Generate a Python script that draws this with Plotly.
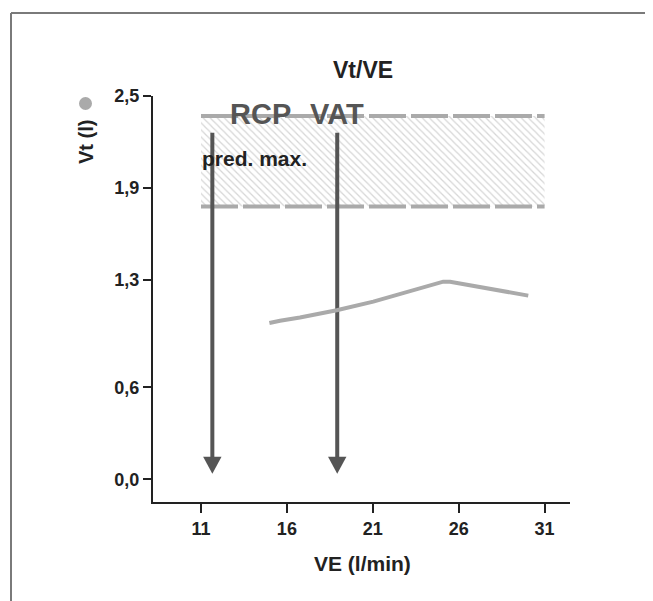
import plotly.graph_objects as go

# ---- data ----
ve_values = [14.98, 15.6, 16.76, 18.9, 21.03, 22.58, 24.33, 25.1, 25.5, 30.05]
vt_values = [1.019, 1.034, 1.055, 1.103, 1.159, 1.207, 1.261, 1.289, 1.289, 1.198]
x_ticks = [11, 16, 21, 26, 31]
y_ticks = [0.0, 0.6, 1.3, 1.9, 2.5]
y_tick_labels = ["0,0", "0,6", "1,3", "1,9", "2,5"]
band_ve = [11, 31]          # predicted max band VE extent
band_vt = [1.78, 2.37]      # predicted max band Vt low/high
threshold_names = ["RCP", "VAT"]
threshold_ve = [11.66, 18.93]
arrow_top_vt = 2.26
arrow_tip_vt = 0.037

# ---- layout geometry (page pixels; page body has an 8px margin) ----
PAGE_OFF = 8
W, H = 653, 601
L, R, T, B = 153, 570, 96, 502          # plot area in page pixels
PW, PH = R - L, B - T
FIG_W, FIG_H = W - PAGE_OFF, H - PAGE_OFF
x_range = [8.206, 32.48]
y_range = [-0.148, 2.5]
ppx = PW / (x_range[1] - x_range[0])
ppy = PH / (y_range[1] - y_range[0])

def px2paper_x(px):
    return (px - L) / PW

def py2paper_y(py):
    return (B - py) / PH

FONT = "Liberation Sans, Arial, Helvetica, sans-serif"
DARK = "#222222"
ARROW = "#555555"
LGRAY = "#aaaaaa"

fig = go.Figure()

# hatched band
fig.add_trace(go.Scatter(
    x=[band_ve[0], band_ve[1], band_ve[1], band_ve[0], band_ve[0]],
    y=[band_vt[0], band_vt[0], band_vt[1], band_vt[1], band_vt[0]],
    mode="lines", line=dict(width=0, color="rgba(0,0,0,0)"),
    fill="toself", fillcolor="rgba(0,0,0,0)",
    fillpattern=dict(shape="\\", fgcolor="#aeaeae", bgcolor="rgba(0,0,0,0)",
                     size=5, solidity=0.25),
    hoverinfo="skip", showlegend=False))

# dashed band limits
for v in band_vt:
    fig.add_trace(go.Scatter(
        x=band_ve, y=[v, v], mode="lines",
        line=dict(color=LGRAY, width=4, dash="37px,5px"),
        hoverinfo="skip", showlegend=False))

# threshold arrows
head_half = 9.2 / ppx
head_h = 17 / ppy
for tv in threshold_ve:
    fig.add_trace(go.Scatter(
        x=[tv, tv], y=[arrow_top_vt, arrow_tip_vt + head_h * 0.9], mode="lines",
        line=dict(color=ARROW, width=4), hoverinfo="skip", showlegend=False))
    fig.add_trace(go.Scatter(
        x=[tv - head_half, tv + head_half, tv, tv - head_half],
        y=[arrow_tip_vt + head_h, arrow_tip_vt + head_h, arrow_tip_vt, arrow_tip_vt + head_h],
        mode="lines", line=dict(color=ARROW, width=0), fill="toself", fillcolor=ARROW,
        hoverinfo="skip", showlegend=False))

# curve
fig.add_trace(go.Scatter(
    x=ve_values, y=vt_values, mode="lines",
    line=dict(color=LGRAY, width=4), hoverinfo="skip", showlegend=False))

def ann(text, px, py, size, color=DARK, xanchor="center", angle=0, xref="paper"):
    return dict(text=text, x=px if xref == "x" else px2paper_x(px), y=py2paper_y(py),
                xref=xref, yref="paper", xanchor=xanchor, yanchor="middle",
                showarrow=False, textangle=angle,
                font=dict(family=FONT, size=size, color=color))

annotations = [
    ann("<b>Vt/VE</b>", 363, 70, 23),
    ann("<b>VE (l/min)</b>", 362, 563, 21),
    ann("<b>Vt (l)</b>", 86, 142, 20, angle=-90),
    ann("<b>pred. max.</b>", 200, 158, 21, xanchor="left"),
    ann("<b>RCP</b>", 260, 114, 29, color=ARROW),
    ann("<b>VAT</b>", threshold_ve[1], 114, 29, color=ARROW, xref="x"),
]

shapes = [
    dict(type="line", xref="paper", yref="paper", x0=px2paper_x(11), x1=px2paper_x(W),
         y0=py2paper_y(13), y1=py2paper_y(13), line=dict(color="#7a7a7a", width=2)),
    dict(type="line", xref="paper", yref="paper", x0=px2paper_x(11), x1=px2paper_x(11),
         y0=py2paper_y(13), y1=py2paper_y(H), line=dict(color="#7a7a7a", width=2)),
    dict(type="circle", xref="paper", yref="paper", x0=px2paper_x(79), x1=px2paper_x(92),
         y0=py2paper_y(110), y1=py2paper_y(97), fillcolor=LGRAY, line=dict(width=0)),
]

fig.update_layout(
    width=FIG_W, height=FIG_H,
    margin=dict(l=L - PAGE_OFF, r=FIG_W - (R - PAGE_OFF), t=T - PAGE_OFF, b=FIG_H - (B - PAGE_OFF)),
    plot_bgcolor="white", paper_bgcolor="white",
    showlegend=False, annotations=annotations, shapes=shapes,
    font=dict(family=FONT, color=DARK),
    xaxis=dict(range=x_range, tickvals=x_ticks, ticktext=[f"<b>{t}</b>" for t in x_ticks],
               showgrid=False, zeroline=False, showline=True, linecolor=DARK, linewidth=2,
               ticks="outside", ticklen=9, tickwidth=2, tickcolor=DARK,
               tickfont=dict(family=FONT, size=18, color=DARK)),
    yaxis=dict(range=y_range, tickvals=y_ticks, ticktext=[f"<b>{t}</b>" for t in y_tick_labels],
               showgrid=False, zeroline=False, showline=True, linecolor=DARK, linewidth=2,
               ticks="outside", ticklen=8, tickwidth=2, tickcolor=DARK,
               tickfont=dict(family=FONT, size=18, color=DARK)),
)

fig.write_html("out.html", config={"displayModeBar": False})
